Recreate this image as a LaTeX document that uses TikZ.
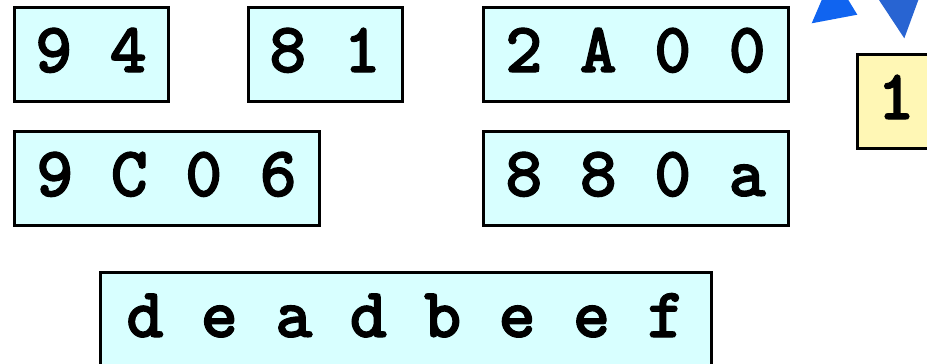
\documentclass[tikz,border=0pt]{standalone}
\usepackage{fontspec}
\newfontfamily\cellfont{lmmonolt10-bold.otf}[FakeBold=1.6]
\definecolor{cellcyan}{HTML}{D8FFFF}
\definecolor{cellyellow}{HTML}{FFF7B5}
\definecolor{arrowA}{HTML}{1064F0}
\definecolor{arrowB}{HTML}{2864D2}
\begin{document}
\begin{tikzpicture}[x=1pt,y=-1pt,
  cell/.style={draw=black, line width=3pt, fill=cellcyan, inner sep=0pt,
    minimum height=94pt, text height=36pt, text depth=0pt,
    font=\fontsize{70.9}{70.9}\cellfont},
  ycell/.style={cell, fill=cellyellow}]
\useasboundingbox (0,0) rectangle (927,364);
\node[cell, minimum width=154pt] (c94) at (91,54) {9 4};
\node[cell, minimum width=154pt] (c81) at (325,54) {8 1};
\node[cell, minimum width=305pt] (c2A00) at (635.5,54) {2 A 0 0};
\node[cell, minimum width=305pt] (c9C06) at (166.5,178) {9 C 0 6};
\node[cell, minimum width=305pt] (c880a) at (635.5,178) {8 8 0 a};
\node[cell, minimum width=611pt] (cdead) at (405.5,319) {d e a d b e e f};
\node[ycell, minimum width=78pt] (c1) at (896,101) {1};
% arrowheads of connectors cut off by the frame
\fill[arrowA] (811.7,23.3) -- (857.3,14.7) -- (832.7,-25.6) -- cycle;
\fill[arrowB] (904.3,38.3) -- (872.4,-10) -- (922,-10) -- cycle;
\end{tikzpicture}
\end{document}
